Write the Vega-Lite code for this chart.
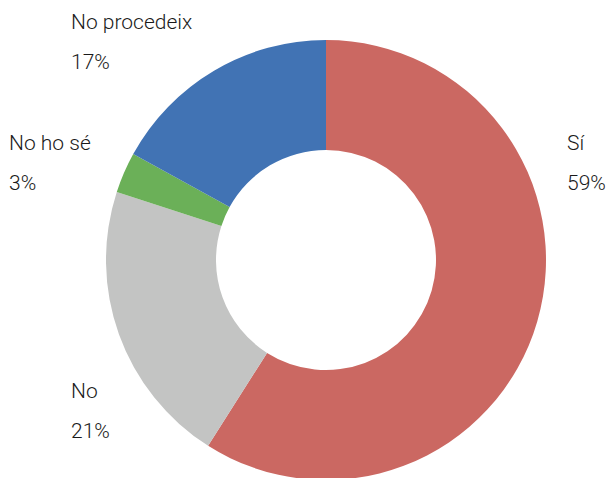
{
  "$schema": "https://vega.github.io/schema/vega-lite/v6.json",
  "autosize": {"type": "none"},
  "width": 572,
  "height": 436,
  "padding": {"left": 40, "top": 42, "right": 0, "bottom": 0},
  "background": "white",
  "config": {"view": {"stroke": null}},
  "data": {
    "values": [
      {"category": "Sí", "value": 59, "rank": 1},
      {"category": "No", "value": 21, "rank": 2},
      {"category": "No ho sé", "value": 3, "rank": 3},
      {"category": "No procedeix", "value": 17, "rank": 4}
    ]
  },
  "transform": [
    {"calculate": "[datum.category, datum.value + '%']", "as": "label"}
  ],
  "layer": [
    {
      "mark": {"type": "arc", "outerRadius": 220, "innerRadius": 110},
      "encoding": {
        "theta": {"field": "value", "type": "quantitative", "stack": true},
        "order": {"field": "rank", "type": "quantitative"},
        "color": {
          "field": "category",
          "type": "nominal",
          "scale": {
            "domain": ["Sí", "No", "No ho sé", "No procedeix"],
            "range": ["#CB6862", "#C3C4C3", "#6BB058", "#4173B4"]
          },
          "legend": null
        }
      }
    },
    {
      "transform": [{"filter": "datum.category == 'Sí'"}],
      "mark": {"type": "text", "align": "left", "baseline": "alphabetic", "dx": 241, "dy": -110, "fontSize": 21, "lineHeight": 40, "font": "Roboto", "fontWeight": 300, "color": "#1a1a1a"},
      "encoding": {"text": {"field": "label"}}
    },
    {
      "transform": [{"filter": "datum.category == 'No'"}],
      "mark": {"type": "text", "align": "left", "baseline": "alphabetic", "dx": -255, "dy": 138, "fontSize": 21, "lineHeight": 40, "font": "Roboto", "fontWeight": 300, "color": "#1a1a1a"},
      "encoding": {"text": {"field": "label"}}
    },
    {
      "transform": [{"filter": "datum.category == 'No ho sé'"}],
      "mark": {"type": "text", "align": "left", "baseline": "alphabetic", "dx": -317, "dy": -110, "fontSize": 21, "lineHeight": 40, "font": "Roboto", "fontWeight": 300, "color": "#1a1a1a"},
      "encoding": {"text": {"field": "label"}}
    },
    {
      "transform": [{"filter": "datum.category == 'No procedeix'"}],
      "mark": {"type": "text", "align": "left", "baseline": "alphabetic", "dx": -255, "dy": -231, "fontSize": 21, "lineHeight": 40, "font": "Roboto", "fontWeight": 300, "color": "#1a1a1a"},
      "encoding": {"text": {"field": "label"}}
    }
  ]
}
